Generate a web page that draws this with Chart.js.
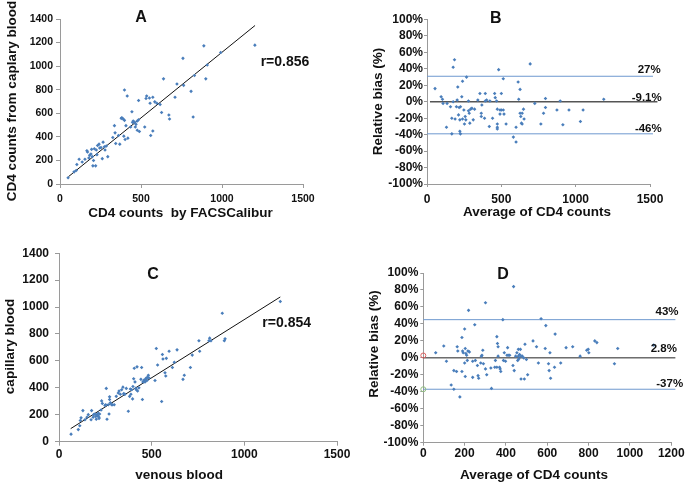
<!DOCTYPE html>
<html>
<head>
<meta charset="utf-8">
<script src="https://cdn.jsdelivr.net/npm/chart.js@4.4.1/dist/chart.umd.min.js"></script>
<style>
  body { margin: 0; background: #fff; }
  #wrap { position: relative; width: 685px; height: 483px; overflow: hidden; }
  canvas { position: absolute; }
</style>
</head>
<body>
<div id="wrap">
  <canvas id="chartA" width="340" height="240" style="left:0;top:0"></canvas>
  <canvas id="chartB" width="345" height="240" style="left:340px;top:0"></canvas>
  <canvas id="chartC" width="360" height="243" style="left:0;top:240px"></canvas>
  <canvas id="chartD" width="345" height="243" style="left:340px;top:240px"></canvas>
</div>
<script>
// A: FACSCalibur vs capillary blood
const aFacs = [50, 87, 100, 104, 118, 137, 154, 166, 170, 178, 183, 191, 195, 199, 203, 207, 212, 220, 224, 228, 232, 241, 245, 253, 261, 266, 274, 278, 286, 295, 326, 336, 340, 344, 361, 369, 378, 382, 390, 394, 398, 398, 402, 407, 415, 419, 436, 444, 448, 452, 461, 465, 469, 477, 477, 485, 485, 490, 523, 531, 535, 552, 556, 560, 573, 573, 585, 598, 618, 627, 639, 672, 676, 710, 722, 759, 763, 809, 822, 830, 888, 900, 909, 992, 1203];
const aCap = [53, 103, 115, 165, 210, 187, 210, 282, 271, 221, 243, 255, 294, 232, 154, 199, 299, 154, 288, 249, 327, 338, 305, 310, 215, 355, 316, 288, 322, 232, 394, 495, 434, 344, 411, 338, 557, 562, 551, 406, 540, 797, 378, 495, 747, 389, 484, 613, 523, 534, 523, 484, 506, 456, 534, 708, 545, 445, 484, 725, 747, 730, 685, 411, 736, 450, 697, 685, 674, 607, 892, 585, 551, 736, 848, 1066, 837, 786, 568, 920, 1172, 892, 1010, 1116, 1178];
const aFitX = [52, 1204];
const aFitY = [62, 1345];

// B: relative bias vs average
const bAvg = [54, 95, 104, 108, 135, 131, 158, 167, 167, 176, 176, 185, 189, 198, 203, 207, 212, 216, 221, 225, 221, 225, 234, 239, 239, 248, 252, 257, 261, 266, 279, 279, 284, 288, 293, 302, 311, 320, 342, 356, 365, 365, 369, 387, 392, 392, 401, 423, 419, 441, 455, 459, 468, 473, 473, 473, 473, 482, 491, 491, 500, 500, 513, 513, 518, 532, 581, 599, 599, 613, 617, 626, 626, 631, 635, 640, 640, 649, 653, 694, 725, 766, 784, 797, 797, 874, 896, 914, 955, 1032, 1050, 1189];
const bBias = [16, 6, 3, -2, -2, -31, -6, -20, -39, 0, 42, 51, -21, -6, 2, 18, -16, -7, -22, -6, -36, -39, 6, 25, -21, -10, -27, -18, -22, 30, 1, -11, -14, -26, -9, -8, -22, -9, 2, 10, -18, -14, -4, -20, 10, 1, 2, 1, -30, -20, 10, 5, 1, -9, -27, -31, -33, 39, -10, -15, 10, -10, 28, -10, -15, -27, -43, -31, -49, 24, 3, 15, -14, -18, -26, -14, -27, -9, -21, 46, -2, -27, -14, 4, -7, -10, 1, -28, -10, -24, -10, 3];
const bLimits = [31, 0, -39];
const bLimitLabels = ['27%', '-9.1%', '-46%'];

// C: venous vs capillary blood
const cVen = [65, 104, 112, 115, 119, 129, 140, 151, 158, 173, 176, 184, 187, 194, 198, 201, 205, 209, 212, 216, 216, 219, 227, 230, 234, 248, 252, 255, 259, 266, 270, 273, 273, 277, 284, 288, 298, 309, 320, 324, 331, 338, 345, 349, 352, 356, 363, 374, 381, 385, 388, 392, 397, 399, 403, 406, 410, 414, 417, 421, 424, 431, 442, 446, 450, 453, 457, 460, 464, 468, 471, 475, 478, 482, 486, 518, 525, 532, 554, 558, 561, 572, 576, 579, 594, 612, 622, 637, 669, 676, 709, 719, 755, 759, 809, 813, 820, 881, 892, 896, 1194];
const cCap = [56, 90, 119, 158, 177, 231, 163, 182, 201, 163, 231, 182, 201, 206, 187, 167, 201, 192, 211, 182, 172, 206, 235, 303, 284, 269, 274, 396, 167, 274, 206, 333, 313, 289, 274, 274, 274, 337, 362, 376, 352, 386, 405, 357, 352, 352, 396, 226, 337, 391, 352, 386, 318, 410, 468, 546, 444, 396, 386, 556, 376, 400, 463, 551, 313, 444, 449, 459, 444, 463, 473, 454, 478, 493, 473, 454, 692, 570, 299, 648, 614, 512, 488, 619, 672, 551, 590, 682, 463, 493, 551, 643, 750, 672, 750, 769, 750, 954, 750, 764, 1041];
const cFitX = [63, 1194];
const cFitY = [97, 1075];

// D: relative bias vs average (venous/capillary)
const dAvg = [60, 99, 112, 135, 148, 148, 161, 164, 167, 177, 187, 187, 190, 193, 200, 200, 203, 203, 206, 210, 213, 216, 219, 223, 239, 239, 249, 252, 262, 265, 268, 278, 281, 284, 288, 291, 301, 301, 307, 327, 330, 346, 349, 356, 356, 359, 362, 362, 369, 372, 375, 385, 388, 392, 398, 405, 408, 411, 418, 434, 437, 440, 447, 453, 457, 460, 460, 463, 466, 470, 473, 473, 479, 486, 489, 492, 499, 505, 531, 548, 557, 570, 590, 593, 606, 609, 613, 616, 635, 638, 665, 691, 723, 759, 791, 798, 801, 830, 840, 925, 941, 1115];
const dBias = [6, 14, -4, -32, -15, -37, -16, 13, 8, -46, -16, 24, 8, 6, 34, -6, -22, 11, 5, 3, -3, 8, 56, 7, -4, -23, 39, -3, -9, -21, -24, -6, 2, 3, 9, -7, -13, 65, -20, -12, -36, -11, -3, -11, 25, 17, 13, 2, -11, -13, -16, 45, -3, 6, -4, 3, 12, 3, 3, -9, 84, -15, 2, 6, -3, 10, 2, -1, 4, 10, -25, 2, 2, 0, -25, 16, -2, -20, 20, 13, -6, 46, 11, 38, -7, -15, 6, -24, -11, 28, -6, 12, 13, 2, 9, 10, 6, 20, 18, -7, 11, 15];
const dLimits = [45, 0, -37];
const dLimitLabels = ['43%', '2.8%', '-37%'];
const dMarkers = [2.8, -37];

const FONT = '"Liberation Sans", Arial, Helvetica, sans-serif';
const DOT = '#4a7ebb';
const LIMIT_BLUE = '#6e98cf';
const AXIS = '#9a9a9a';

const notesPlugin = {
  id: 'notes',
  afterDraw(chart, args, opts) {
    const ctx = chart.ctx;
    (opts.items || []).forEach(n => {
      ctx.save();
      ctx.font = 'bold ' + n.size + 'px ' + FONT;
      ctx.fillStyle = '#111';
      ctx.textAlign = 'center';
      ctx.textBaseline = 'middle';
      ctx.translate(n.x, n.y);
      if (n.rotate) ctx.rotate(-Math.PI / 2);
      ctx.fillText(n.text, 0, 0);
      ctx.restore();
    });
  }
};

function pts(xs, ys) {
  return xs.map((x, i) => ({ x: x, y: ys[i] }));
}

function dots(xs, ys) {
  return {
    type: 'scatter',
    data: pts(xs, ys),
    pointStyle: 'rectRot',
    pointRadius: 1.8,
    pointBorderWidth: 0,
    pointBackgroundColor: DOT,
    order: 1
  };
}

function hline(x0, x1, y, color, width) {
  return {
    type: 'line',
    data: [{ x: x0, y: y }, { x: x1, y: y }],
    borderColor: color,
    borderWidth: width,
    pointRadius: 0,
    clip: false,
    order: 2
  };
}

function axis(min, max, step, fontSize, tickLen, pad, size, isY, pct) {
  return {
    type: 'linear',
    min: min,
    max: max,
    grid: { drawOnChartArea: false, drawTicks: true, tickLength: tickLen, color: AXIS },
    border: { color: AXIS, width: 1 },
    ticks: {
      stepSize: step,
      padding: pad,
      autoSkip: false,
      color: '#111',
      font: { family: FONT, size: fontSize, weight: 'bold' },
      maxRotation: 0,
      callback: v => pct ? v + '%' : String(v)
    },
    afterFit: s => { if (isY) s.width = size; else s.height = size; }
  };
}

function panel(id, datasets, scales, padding, notes) {
  new Chart(document.getElementById(id), {
    data: { datasets: datasets },
    options: {
      responsive: false,
      animation: false,
      layout: { padding: padding },
      scales: scales,
      plugins: {
        legend: { display: false },
        tooltip: { enabled: false },
        notes: { items: notes }
      }
    },
    plugins: [notesPlugin]
  });
}

// Panel A
panel('chartA', [
  dots(aFacs, aCap),
  { type: 'line', data: pts(aFitX, aFitY), borderColor: '#111', borderWidth: 1, pointRadius: 0, order: 2 }
], {
  x: axis(0, 1500, 500, 10.5, 4, 5, 56, false, false),
  y: axis(0, 1400, 200, 10.5, 4, 3, 60, true, false)
}, { left: 0, top: 19, right: 37, bottom: 0 }, [
  { text: 'CD4 counts from caplary blood', x: 12, y: 101, size: 13.5, rotate: true },
  { text: 'CD4 counts  by FACSCalibur', x: 180.5, y: 213, size: 13.5 },
  { text: 'A', x: 141, y: 18, size: 16 },
  { text: 'r=0.856', x: 285, y: 62, size: 14 }
]);

// Panel B
panel('chartB', [
  dots(bAvg, bBias),
  hline(0, 1520, bLimits[0], LIMIT_BLUE, 1),
  hline(20, 1550, bLimits[1], '#555', 1.5),
  hline(0, 1520, bLimits[2], LIMIT_BLUE, 1)
], {
  x: axis(0, 1500, 500, 12, 3, 5, 56, false, false),
  y: axis(-100, 100, 20, 12, 3, 1, 87, true, true)
}, { left: 0, top: 19.5, right: 35, bottom: 0 }, [
  { text: 'Relative bias (%)', x: 38.3, y: 101.5, size: 13.5, rotate: true },
  { text: 'Average of CD4 counts', x: 197, y: 212, size: 13.5 },
  { text: 'B', x: 155.8, y: 18.3, size: 16 },
  { text: bLimitLabels[0], x: 309.2, y: 70, size: 11.5 },
  { text: bLimitLabels[1], x: 306.7, y: 98, size: 11.5 },
  { text: bLimitLabels[2], x: 308.3, y: 129, size: 11.5 }
]);

// Panel C
panel('chartC', [
  dots(cVen, cCap),
  { type: 'line', data: pts(cFitX, cFitY), borderColor: '#111', borderWidth: 1, pointRadius: 0, order: 2 }
], {
  x: axis(0, 1500, 500, 12, 4, 2, 41.3, false, false),
  y: axis(0, 1400, 200, 12, 4, 6, 59, true, false)
}, { left: 0, top: 9.3, right: 23, bottom: 0 }, [
  { text: 'capillary blood', x: 10, y: 106.5, size: 13.5, rotate: true },
  { text: 'venous blood', x: 179, y: 235, size: 13.5 },
  { text: 'C', x: 153, y: 34.7, size: 16 },
  { text: 'r=0.854', x: 286.7, y: 83.3, size: 14 }
]);

// Panel D
panel('chartD', [
  dots(dAvg, dBias),
  hline(0, 1220, dLimits[0], LIMIT_BLUE, 1),
  hline(0, 1220, dLimits[1], '#222', 1),
  hline(0, 1220, dLimits[2], LIMIT_BLUE, 1),
  {
    type: 'scatter',
    data: [{ x: 0, y: dMarkers[0] }, { x: 0, y: dMarkers[1] }],
    pointRadius: 2.5,
    pointBorderWidth: 1,
    pointBorderColor: ['#e06060', '#8fbf7f'],
    pointBackgroundColor: 'rgba(0,0,0,0)',
    clip: false,
    order: 0
  }
], {
  x: axis(0, 1200, 200, 12, 3, 0.4, 40.3, false, false),
  y: axis(-100, 100, 20, 12, 3, 2, 83.3, true, true)
}, { left: 0, top: 33, right: 13.3, bottom: 0 }, [
  { text: 'Relative bias (%)', x: 34, y: 104, size: 13.5, rotate: true },
  { text: 'Average of CD4 counts', x: 194, y: 235, size: 13.5 },
  { text: 'D', x: 163, y: 34.7, size: 16 },
  { text: dLimitLabels[0], x: 327, y: 72.3, size: 11.5 },
  { text: dLimitLabels[1], x: 323.8, y: 109.3, size: 11.5 },
  { text: dLimitLabels[2], x: 329.7, y: 144, size: 11.5 }
]);
</script>
</body>
</html>
